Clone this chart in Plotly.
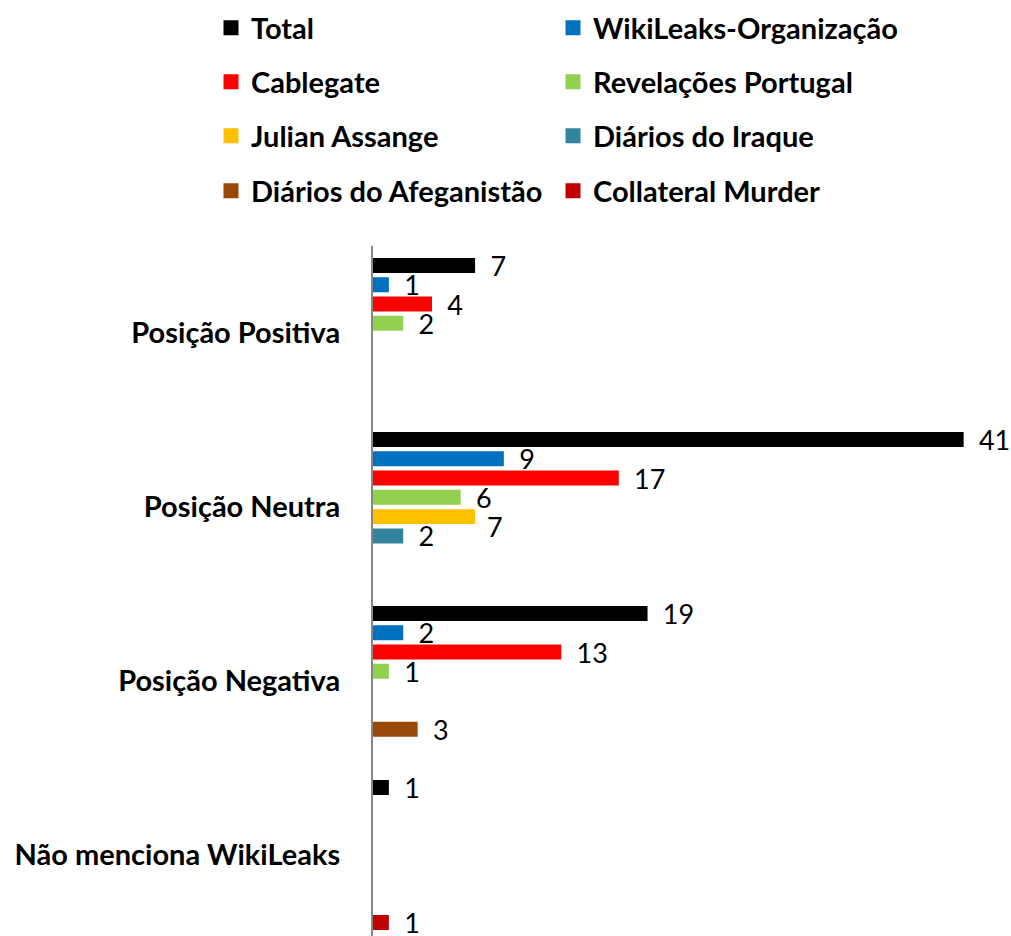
import plotly.graph_objects as go

categories = ["Posição Positiva", "Posição Neutra", "Posição Negativa", "Não menciona WikiLeaks"]

series_names = ["Total", "WikiLeaks-Organização", "Cablegate", "Revelações Portugal",
                "Julian Assange", "Diários do Iraque", "Diários do Afeganistão", "Collateral Murder"]

total = [7, 41, 19, 1]
wikileaks_org = [1, 9, 2, None]
cablegate = [4, 17, 13, None]
revelacoes = [2, 6, 1, None]
julian = [None, 7, None, None]
iraque = [None, 2, None, None]
afeganistao = [None, None, 3, None]
collateral = [None, None, None, 1]

series_values = [total, wikileaks_org, cablegate, revelacoes, julian, iraque, afeganistao, collateral]
colors = ["#000000", "#0070C0", "#FF0000", "#92D050", "#FFC000", "#31859C", "#984807", "#C00000"]

W, H = 1011, 936

fig = go.Figure()

legend_rows_y = [28, 82, 136, 191]
legend_cols_x = [211, 553]
legends = {}
label_font = dict(family="Lato", size=27, color="black")

for i, (name, vals, col) in enumerate(zip(series_names, series_values, colors)):
    lg = "legend" if i == 0 else "legend%d" % (i + 1)
    labels = ["\u00a0\u00a0" + str(v) if v is not None else "" for v in vals]
    if name == "Julian Assange":
        labels = ["" for v in vals]  # drawn as annotation, nudged down like the original
    fig.add_trace(go.Bar(
        y=categories,
        x=vals,
        name=name,
        orientation="h",
        marker=dict(color=col, line=dict(color=col, width=3)),
        text=labels,
        textposition="outside",
        constraintext="none",
        textfont=label_font,
        cliponaxis=False,
        legend=lg,
    ))
    # one legend per entry -> 2 columns x 4 rows like the original
    legends[lg] = dict(
        xref="container", yref="container",
        x=legend_cols_x[i % 2] / W, xanchor="left",
        y=1 - legend_rows_y[i // 2] / H, yanchor="middle",
        font=dict(family="Lato", size=29, color="black", weight="bold"),
        bgcolor="rgba(0,0,0,0)",
    )

for cat, v in zip(categories, julian):
    if v is not None:
        fig.add_annotation(x=v, y=cat, text=str(v), showarrow=False,
                           xanchor="left", xshift=11, yshift=-20, font=label_font)

fig.update_layout(
    width=W,
    height=H,
    plot_bgcolor="white",
    paper_bgcolor="white",
    barmode="group",
    bargap=0.113,
    bargroupgap=0.38,
    margin=dict(l=373, r=0, t=246, b=0, autoexpand=False),
    xaxis=dict(range=[0, 44.4], showticklabels=False, showgrid=False, zeroline=False, showline=False),
    yaxis=dict(
        range=[3.466, -0.5],
        showline=True, linecolor="#868686", linewidth=2,
        showgrid=False, ticks="",
        ticklabelstandoff=25,
        tickfont=dict(family="Lato", size=29, color="black", weight="bold"),
    ),
    showlegend=True,
    **legends,
)

# no page margin / scrollbars so the figure fills the window exactly
fig.write_html("out.html", config={"displayModeBar": False},
               post_script="document.body.style.margin='0';document.body.style.overflow='hidden';")
